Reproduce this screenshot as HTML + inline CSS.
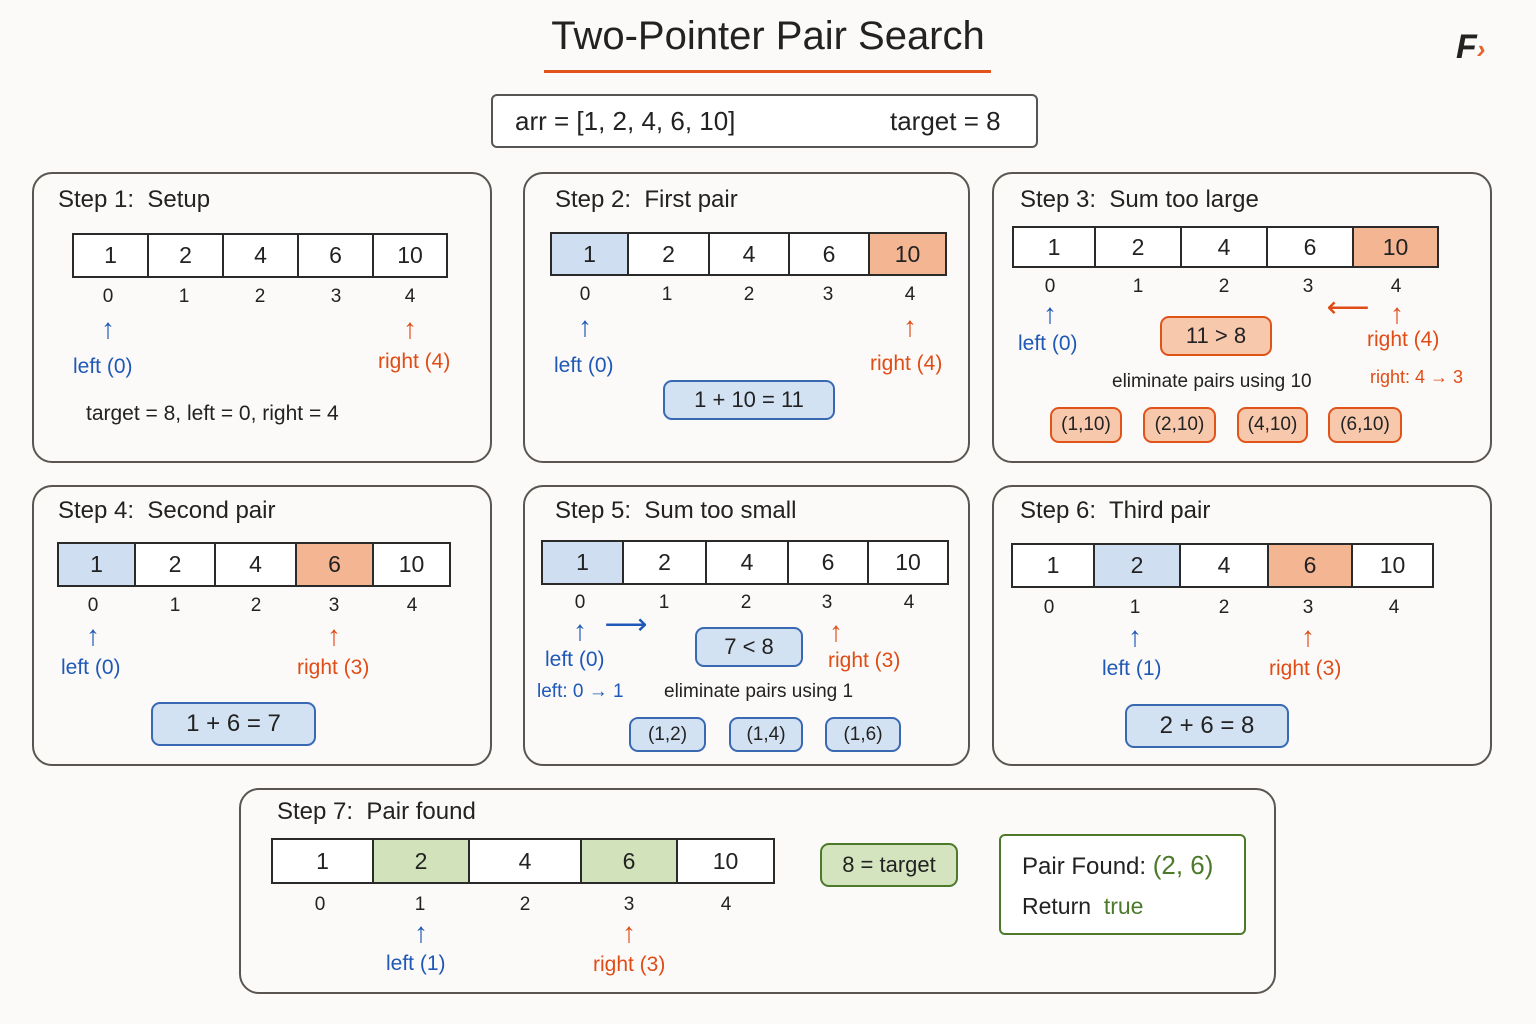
<!DOCTYPE html>
<html><head><meta charset="utf-8"><style>
body{margin:0;width:1536px;height:1024px;background:#fbfaf8;position:relative;overflow:hidden;font-family:"Liberation Sans",sans-serif;color:#222}
div{position:absolute;box-sizing:border-box}
.p{border:2.5px solid #5a5550;border-radius:20px;background:#fbfaf8}
.h{font-size:24px;white-space:nowrap}
.c{border:2px solid #2a2a2a;background:#fff;display:flex;align-items:center;justify-content:center;font-size:23px}
.b{background:#cfdff1}.o{background:#f4b592}.g{background:#d2e2bb}
.i{font-size:19px;width:30px;text-align:center}
.t{white-space:nowrap;font-size:21px}
.bl{color:#1f58b6}.or{color:#e04c16}.gr{color:#4c7a2a}
.ar{font-size:28px;width:30px;text-align:center;line-height:28px}
.bx{border-radius:9px;display:flex;align-items:center;justify-content:center;font-size:22px;border:2px solid}
.bb{background:#d3e2f3;border-color:#3a69b4}.ob{background:#f7c8ac;border-color:#e0541a}.gb{background:#d4e4be;border-color:#4c7a2a}
</style></head><body>
<div class="h" style="left:0;width:1536px;top:14px;text-align:center;font-size:40px">Two-Pointer Pair Search</div>
<div style="left:544px;top:70px;width:447px;height:3px;background:#e0541a"></div>
<div style="left:1456px;top:32px;width:40px;height:30px;font-size:34px;font-weight:bold;font-style:italic;line-height:30px">F<span style="color:#e8632a;font-size:26px">›</span></div>
<div style="left:491px;top:94px;width:547px;height:54px;border:2.5px solid #555;border-radius:6px;background:#fff"></div>
<div class="h" style="left:515px;top:106px;font-size:26px">arr = [1, 2, 4, 6, 10]</div>
<div class="h" style="left:890px;top:106px;font-size:26px">target = 8</div>

<!-- P1 -->
<div class="p" style="left:32px;top:172px;width:460px;height:291px"></div>
<div class="h" style="left:58px;top:186px">Step 1:&nbsp; Setup</div>
<div class="c" style="left:72px;top:233px;width:77px;height:45px">1</div>
<div class="c" style="left:147px;top:233px;width:77px;height:45px">2</div>
<div class="c" style="left:222px;top:233px;width:77px;height:45px">4</div>
<div class="c" style="left:297px;top:233px;width:77px;height:45px">6</div>
<div class="c" style="left:372px;top:233px;width:76px;height:45px">10</div>
<div class="i" style="left:93px;top:286px">0</div><div class="i" style="left:169px;top:286px">1</div><div class="i" style="left:245px;top:286px">2</div><div class="i" style="left:321px;top:286px">3</div><div class="i" style="left:395px;top:286px">4</div>
<div class="ar bl" style="left:93px;top:315px">↑</div><div class="ar or" style="left:395px;top:315px">↑</div>
<div class="t bl" style="left:73px;top:355px">left (0)</div><div class="t or" style="left:378px;top:350px">right (4)</div>
<div class="t" style="left:86px;top:402px">target = 8, left = 0, right = 4</div>

<!-- P2 -->
<div class="p" style="left:523px;top:172px;width:447px;height:291px"></div>
<div class="h" style="left:555px;top:186px">Step 2:&nbsp; First pair</div>
<div class="c b" style="left:550px;top:232px;width:79px;height:44px">1</div>
<div class="c" style="left:627px;top:232px;width:83px;height:44px">2</div>
<div class="c" style="left:708px;top:232px;width:82px;height:44px">4</div>
<div class="c" style="left:788px;top:232px;width:82px;height:44px">6</div>
<div class="c o" style="left:868px;top:232px;width:79px;height:44px">10</div>
<div class="i" style="left:570px;top:284px">0</div><div class="i" style="left:652px;top:284px">1</div><div class="i" style="left:734px;top:284px">2</div><div class="i" style="left:813px;top:284px">3</div><div class="i" style="left:895px;top:284px">4</div>
<div class="ar bl" style="left:570px;top:313px">↑</div><div class="ar or" style="left:895px;top:313px">↑</div>
<div class="t bl" style="left:554px;top:354px">left (0)</div><div class="t or" style="left:870px;top:352px">right (4)</div>
<div class="bx bb" style="left:663px;top:380px;width:172px;height:40px">1 + 10 = 11</div>

<!-- P3 -->
<div class="p" style="left:992px;top:172px;width:500px;height:291px"></div>
<div class="h" style="left:1020px;top:186px">Step 3:&nbsp; Sum too large</div>
<div class="c" style="left:1012px;top:226px;width:84px;height:42px">1</div>
<div class="c" style="left:1094px;top:226px;width:88px;height:42px">2</div>
<div class="c" style="left:1180px;top:226px;width:88px;height:42px">4</div>
<div class="c" style="left:1266px;top:226px;width:88px;height:42px">6</div>
<div class="c o" style="left:1352px;top:226px;width:87px;height:42px">10</div>
<div class="i" style="left:1035px;top:276px">0</div><div class="i" style="left:1123px;top:276px">1</div><div class="i" style="left:1209px;top:276px">2</div><div class="i" style="left:1293px;top:276px">3</div><div class="i" style="left:1381px;top:276px">4</div>
<div class="ar bl" style="left:1035px;top:300px">↑</div><div class="ar or" style="left:1382px;top:300px">↑</div>
<div class="ar or" style="left:1318px;top:294px;width:60px;font-size:30px">⟵</div>
<div class="t bl" style="left:1018px;top:332px">left (0)</div><div class="t or" style="left:1367px;top:328px">right (4)</div>
<div class="bx ob" style="left:1160px;top:316px;width:112px;height:40px">11 &gt; 8</div>
<div class="t" style="left:1112px;top:371px;font-size:19px">eliminate pairs using 10</div>
<div class="t or" style="left:1370px;top:367px;font-size:18px">right: 4 → 3</div>
<div class="bx ob" style="left:1050px;top:407px;width:72px;height:36px;font-size:19px">(1,10)</div>
<div class="bx ob" style="left:1143px;top:407px;width:73px;height:36px;font-size:19px">(2,10)</div>
<div class="bx ob" style="left:1237px;top:407px;width:71px;height:36px;font-size:19px">(4,10)</div>
<div class="bx ob" style="left:1328px;top:407px;width:74px;height:36px;font-size:19px">(6,10)</div>

<!-- P4 -->
<div class="p" style="left:32px;top:485px;width:460px;height:281px"></div>
<div class="h" style="left:58px;top:497px">Step 4:&nbsp; Second pair</div>
<div class="c b" style="left:57px;top:542px;width:79px;height:45px">1</div>
<div class="c" style="left:134px;top:542px;width:82px;height:45px">2</div>
<div class="c" style="left:214px;top:542px;width:83px;height:45px">4</div>
<div class="c o" style="left:295px;top:542px;width:79px;height:45px">6</div>
<div class="c" style="left:372px;top:542px;width:79px;height:45px">10</div>
<div class="i" style="left:78px;top:595px">0</div><div class="i" style="left:160px;top:595px">1</div><div class="i" style="left:241px;top:595px">2</div><div class="i" style="left:319px;top:595px">3</div><div class="i" style="left:397px;top:595px">4</div>
<div class="ar bl" style="left:78px;top:622px">↑</div><div class="ar or" style="left:319px;top:622px">↑</div>
<div class="t bl" style="left:61px;top:656px">left (0)</div><div class="t or" style="left:297px;top:656px">right (3)</div>
<div class="bx bb" style="left:151px;top:702px;width:165px;height:44px;font-size:24px">1 + 6 = 7</div>

<!-- P5 -->
<div class="p" style="left:523px;top:485px;width:447px;height:281px"></div>
<div class="h" style="left:555px;top:497px">Step 5:&nbsp; Sum too small</div>
<div class="c b" style="left:541px;top:540px;width:83px;height:45px">1</div>
<div class="c" style="left:622px;top:540px;width:85px;height:45px">2</div>
<div class="c" style="left:705px;top:540px;width:84px;height:45px">4</div>
<div class="c" style="left:787px;top:540px;width:82px;height:45px">6</div>
<div class="c" style="left:867px;top:540px;width:82px;height:45px">10</div>
<div class="i" style="left:565px;top:592px">0</div><div class="i" style="left:649px;top:592px">1</div><div class="i" style="left:731px;top:592px">2</div><div class="i" style="left:812px;top:592px">3</div><div class="i" style="left:894px;top:592px">4</div>
<div class="ar bl" style="left:565px;top:617px">↑</div><div class="ar bl" style="left:596px;top:611px;width:60px;font-size:30px">⟶</div>
<div class="ar or" style="left:821px;top:618px">↑</div>
<div class="t bl" style="left:545px;top:648px">left (0)</div><div class="t or" style="left:828px;top:649px">right (3)</div>
<div class="bx bb" style="left:695px;top:627px;width:108px;height:40px">7 &lt; 8</div>
<div class="t bl" style="left:537px;top:681px;font-size:19px">left: 0 → 1</div>
<div class="t" style="left:664px;top:681px;font-size:19px">eliminate pairs using 1</div>
<div class="bx bb" style="left:629px;top:717px;width:77px;height:35px;font-size:19px">(1,2)</div>
<div class="bx bb" style="left:729px;top:717px;width:74px;height:35px;font-size:19px">(1,4)</div>
<div class="bx bb" style="left:825px;top:717px;width:76px;height:35px;font-size:19px">(1,6)</div>

<!-- P6 -->
<div class="p" style="left:992px;top:485px;width:500px;height:281px"></div>
<div class="h" style="left:1020px;top:497px">Step 6:&nbsp; Third pair</div>
<div class="c" style="left:1011px;top:543px;width:84px;height:45px">1</div>
<div class="c b" style="left:1093px;top:543px;width:88px;height:45px">2</div>
<div class="c" style="left:1179px;top:543px;width:90px;height:45px">4</div>
<div class="c o" style="left:1267px;top:543px;width:86px;height:45px">6</div>
<div class="c" style="left:1351px;top:543px;width:83px;height:45px">10</div>
<div class="i" style="left:1034px;top:597px">0</div><div class="i" style="left:1120px;top:597px">1</div><div class="i" style="left:1209px;top:597px">2</div><div class="i" style="left:1293px;top:597px">3</div><div class="i" style="left:1379px;top:597px">4</div>
<div class="ar bl" style="left:1120px;top:623px">↑</div><div class="ar or" style="left:1293px;top:623px">↑</div>
<div class="t bl" style="left:1102px;top:657px">left (1)</div><div class="t or" style="left:1269px;top:657px">right (3)</div>
<div class="bx bb" style="left:1125px;top:704px;width:164px;height:44px;font-size:24px">2 + 6 = 8</div>

<!-- P7 -->
<div class="p" style="left:239px;top:788px;width:1037px;height:206px"></div>
<div class="h" style="left:277px;top:798px">Step 7:&nbsp; Pair found</div>
<div class="c" style="left:271px;top:838px;width:103px;height:46px">1</div>
<div class="c g" style="left:372px;top:838px;width:98px;height:46px">2</div>
<div class="c" style="left:468px;top:838px;width:114px;height:46px">4</div>
<div class="c g" style="left:580px;top:838px;width:98px;height:46px">6</div>
<div class="c" style="left:676px;top:838px;width:99px;height:46px">10</div>
<div class="i" style="left:305px;top:894px">0</div><div class="i" style="left:405px;top:894px">1</div><div class="i" style="left:510px;top:894px">2</div><div class="i" style="left:614px;top:894px">3</div><div class="i" style="left:711px;top:894px">4</div>
<div class="ar bl" style="left:406px;top:919px">↑</div><div class="ar or" style="left:614px;top:919px">↑</div>
<div class="t bl" style="left:386px;top:952px">left (1)</div><div class="t or" style="left:593px;top:953px">right (3)</div>
<div class="bx gb" style="left:820px;top:843px;width:138px;height:44px">8 = target</div>
<div style="left:999px;top:834px;width:247px;height:101px;border:2.5px solid #4c7a2a;border-radius:6px;background:#fff"></div>
<div class="t" style="left:1022px;top:850px;font-size:24px">Pair Found: <span class="gr" style="font-size:26px">(2, 6)</span></div>
<div class="t" style="left:1022px;top:893px;font-size:23px">Return&nbsp; <span class="gr">true</span></div>
</body></html>
